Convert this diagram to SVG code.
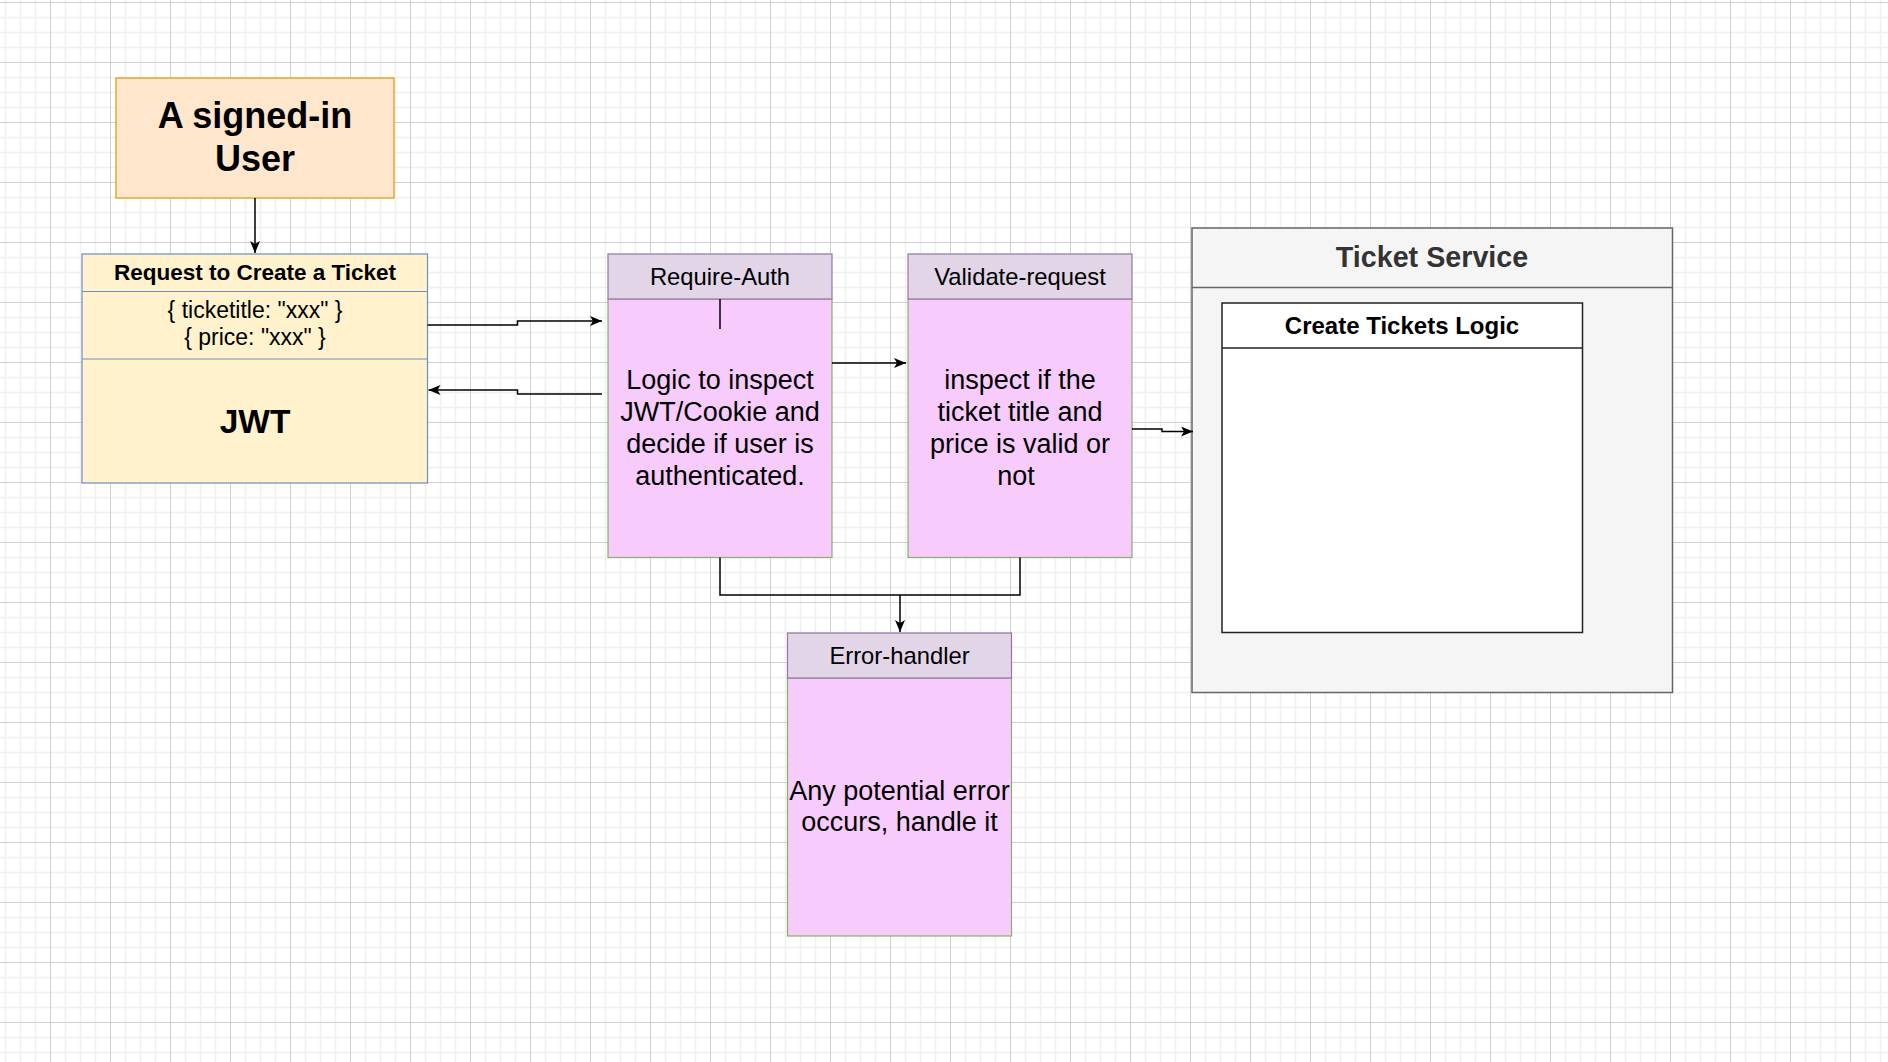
<svg xmlns="http://www.w3.org/2000/svg" width="1888" height="1062" viewBox="0 0 1888 1062">
<defs>
<pattern id="grid" x="50" y="2" width="60" height="60" patternUnits="userSpaceOnUse">
<path d="M15.5,0V60M30.5,0V60M45.5,0V60M0,15.5H60M0,30.5H60M0,45.5H60" stroke="#f0f0f0" stroke-width="1.6" fill="none"/>
<path d="M0.5,0V60M0,0.5H60" stroke="#d0d0d0" stroke-width="1" fill="none"/>
</pattern>
<marker id="arr" viewBox="0 0 12 10" refX="12" refY="5" markerWidth="12" markerHeight="10" markerUnits="userSpaceOnUse" orient="auto">
<path d="M0,0L12,5L0,10L3,5Z" fill="#000"/>
</marker>
<style>
text{font-family:"Liberation Sans",Arial,sans-serif;fill:#000}
.c{text-anchor:middle}
.b{font-weight:bold}
.conn{fill:none;stroke:#000;stroke-width:1.5}
.hdr{fill:#e1d5e7;stroke:#9673a6;stroke-width:1.2}
.body{fill:#f7cbfb;stroke:#82b366;stroke-width:1.2}
.t23{font-size:23px}
.th{font-size:23.8px}
.t27{font-size:27px}
</style>
</defs>
<rect width="1888" height="1062" fill="#ffffff"/>
<rect width="1888" height="1062" fill="url(#grid)"/>

<g id="user">
<rect x="116" y="78" width="278" height="120" fill="#ffe6cc" stroke="#d79b00" stroke-width="1.2"/>
<text class="c b" x="255" y="128" font-size="36">A signed-in</text>
<text class="c b" x="255" y="171" font-size="36">User</text>
</g>

<g id="request">
<rect x="82" y="254" width="345.5" height="229" fill="#fff2cc" stroke="#6c8ebf" stroke-width="1.2"/>
<line x1="82" y1="291.5" x2="427.5" y2="291.5" stroke="#6c8ebf" stroke-width="1.2"/>
<line x1="82" y1="359" x2="427.5" y2="359" stroke="#6c8ebf" stroke-width="1.2"/>
<text class="c b" x="255" y="280" font-size="22.5">Request to Create a Ticket</text>
<text class="c t23" x="255" y="318">{ ticketitle: "xxx" }</text>
<text class="c t23" x="255" y="345">{ price: "xxx" }</text>
<text class="c b" x="255" y="433" font-size="33.5">JWT</text>
</g>

<g id="require-auth">
<rect class="body" x="608" y="299" width="224" height="258.5"/>
<rect class="hdr" x="608" y="254" width="224" height="45"/>
<text class="c th" x="720" y="285">Require-Auth</text>
<text class="c t27" x="720" y="389">Logic to inspect</text>
<text class="c t27" x="720" y="421">JWT/Cookie and</text>
<text class="c t27" x="720" y="453">decide if user is</text>
<text class="c t27" x="720" y="485">authenticated.</text>
</g>

<g id="validate-request">
<rect class="body" x="908" y="299" width="224" height="258.5"/>
<rect class="hdr" x="908" y="254" width="224" height="45"/>
<text class="c th" x="1020" y="285">Validate-request</text>
<text class="c t27" x="1020" y="389">inspect if the</text>
<text class="c t27" x="1020" y="421">ticket title and</text>
<text class="c t27" x="1020" y="453">price is valid or</text>
<text class="c t27" x="1016" y="485">not</text>
</g>

<g id="error-handler">
<rect class="body" x="787.5" y="678" width="224" height="258"/>
<rect class="hdr" x="787.5" y="633" width="224" height="45"/>
<text class="c th" x="899.5" y="663.5">Error-handler</text>
<text class="c t27" x="899.5" y="800">Any potential error</text>
<text class="c t27" x="899.5" y="831">occurs, handle it</text>
</g>

<g id="ticket-service">
<rect x="1192" y="228" width="480.5" height="464.5" fill="#f5f5f5" stroke="#666666" stroke-width="1.5"/>
<line x1="1192" y1="287.5" x2="1672.5" y2="287.5" stroke="#666666" stroke-width="1.5"/>
<text class="c b" x="1432" y="267" font-size="28.7" style="fill:#333333">Ticket Service</text>
</g>

<g id="create-tickets-logic">
<rect x="1222" y="303" width="360.5" height="329.5" fill="#ffffff" stroke="#222222" stroke-width="1.5"/>
<line x1="1222" y1="348" x2="1582.5" y2="348" stroke="#222222" stroke-width="1.5"/>
<text class="c b" x="1402" y="334" font-size="24">Create Tickets Logic</text>
</g>

<g id="connectors">
<path class="conn" d="M255,198V253" marker-end="url(#arr)"/>
<path class="conn" d="M427.5,325H517.5V321H602" marker-end="url(#arr)"/>
<path class="conn" d="M602,394H517.5V390H428.5" marker-end="url(#arr)"/>
<path class="conn" d="M832,363H906" marker-end="url(#arr)"/>
<path class="conn" d="M1132,429H1162V431.5H1193" marker-end="url(#arr)"/>
<path class="conn" d="M720,557.5V595H1020V557.5"/>
<path class="conn" d="M900,595V632" marker-end="url(#arr)"/>
<path class="conn" d="M720,299V329"/>
</g>
</svg>
